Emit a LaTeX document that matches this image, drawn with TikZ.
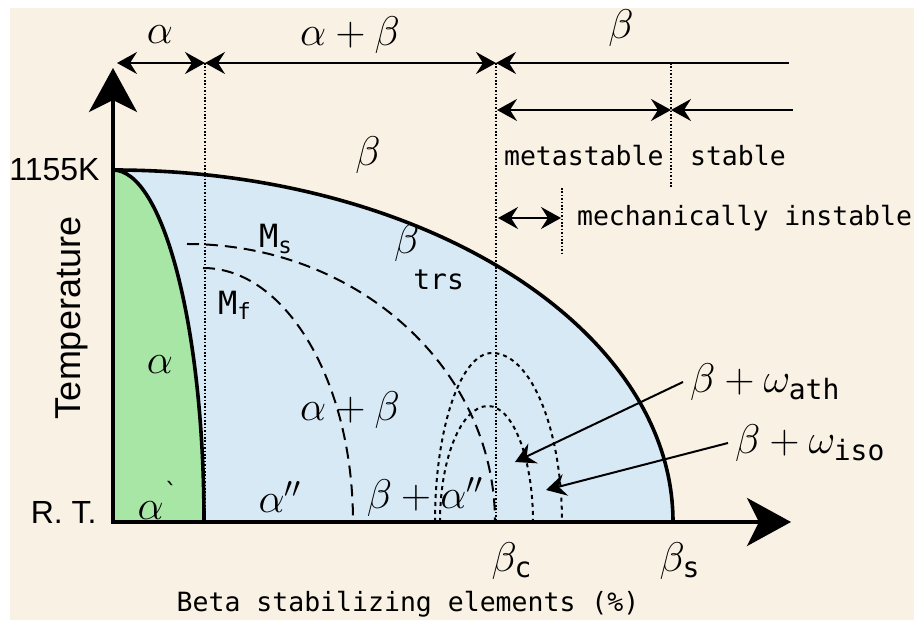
\documentclass[tikz,border=0pt]{standalone}
\usepackage{amsmath}
\usepackage{fontspec}
\setmainfont{Liberation Sans}
\newfontfamily\monofont{DejaVu Sans Mono}
\usetikzlibrary{arrows.meta,calc}
\definecolor{cream}{HTML}{F8F1E4}
\definecolor{betablue}{HTML}{D8E9F6}
\definecolor{alphagreen}{HTML}{A8E6A6}
\tikzset{
  phase/.style={font=\fontsize{20}{20}\selectfont},
  lab/.style={font=\fontsize{16}{17}\selectfont, inner sep=0pt},
  mono/.style={font=\monofont\fontsize{13.25}{14}\selectfont},
  mlab/.style={font=\monofont\fontsize{16}{16}\selectfont},
  bound/.style={line width=1.8pt},
  axis/.style={line width=2pt, {Stealth[length=22pt,width=24pt,inset=6pt]}-{Stealth[length=22pt,width=24pt,inset=6pt]}},
  guide/.style={line width=0.7pt, dash pattern=on 0.8pt off 0.9pt},
  mline/.style={line width=1pt, dash pattern=on 6pt off 3.5pt},
  omega/.style={line width=1pt, dash pattern=on 2pt off 2pt},
  span/.style={line width=1pt},
}

\begin{document}
\begin{tikzpicture}[x=25pt, y=25pt, >={Stealth[length=10pt,width=11pt,inset=3.5pt]}]
        % background
        \useasboundingbox (-2.26,-1.96) rectangle (16.06,10.44);
        \fill[white] (-2.26,-1.96) rectangle (16.06,10.44);
        \fill[cream] (-2.06,-1.96) rectangle (16.02,10.28);
        % axis
        \coordinate (O) at (0,0);
        \coordinate (ytip) at (0,9.08);
        \coordinate (xtip) at (13.56,0);
        \coordinate (T) at (0,7.04);
        \coordinate (bc) at (7.66,0);
        \coordinate (bs) at (11.2,0);
        % regions
        \fill[betablue] (O) -- (T) arc[start angle=90, end angle=0, x radius=11.2, y radius=7.04] -- cycle;
        \fill[alphagreen] (O) -- (T) arc[start angle=90, end angle=0, x radius=1.82, y radius=7.04] -- cycle;
        % martensite start / finish
        \draw[mline] (1.48,5.56) arc[start angle=90, end angle=0, x radius=6.16, y radius=5.56];
        \draw[mline] (1.8,5.08) arc[start angle=90, end angle=0, x radius=3.0, y radius=5.08];
        % omega
        \draw[omega] (6.44,0) arc[start angle=180, end angle=90, x radius=1.14, y radius=3.38]
            arc[start angle=90, end angle=0, x radius=1.4, y radius=3.38];
        \draw[omega] (6.54,0) arc[start angle=180, end angle=90, x radius=0.96, y radius=2.32]
            arc[start angle=90, end angle=0, x radius=0.9, y radius=2.32];
        % guides
        \coordinate (g1) at (1.84,9.18);
        \coordinate (g2) at (7.66,9.18);
        \coordinate (g3) at (11.16,9.18);
        \coordinate (g4) at (8.98,6.68);
        \draw[guide] (g1) -- (1.84,0);
        \draw[guide] (g2) -- (bc);
        \draw[guide] (g3) -- (11.16,6.68);
        \draw[guide] (g4) -- (8.98,5.38);
        % boundaries
        \draw[bound] (T) arc[start angle=90, end angle=0, x radius=11.2, y radius=7.04];
        \draw[bound] (T) arc[start angle=90, end angle=0, x radius=1.82, y radius=7.04];
        \draw[axis] (ytip) -- (O) -- (xtip);
        % ranges
        \coordinate (r0) at (0.08,9.18);
        \coordinate (r1) at (13.52,9.18);
        \coordinate (m0) at (7.68,8.24);
        \coordinate (m1) at (11.16,8.24);
        \coordinate (m2) at (13.6,8.24);
        \coordinate (c0) at (7.7,6.08);
        \coordinate (c1) at (8.96,6.08);
        \draw[span, <->] (r0) -- (g1);
        \draw[span, <->] (g1) -- (g2);
        \draw[span, <-] (g2) -- (r1);
        \draw[span, <->] (m0) -- (m1);
        \draw[span, <-] (m1) -- (m2);
        \draw[span, <->] (c0) -- (c1);
        % labels
        \node[phase] (ta) at (0.94,9.74) {$\alpha$};
        \node[phase] (tab) at (4.74,9.74) {$\alpha+\beta$};
        \node[phase] (tb) at (10.16,9.88) {$\beta$};
        \node[mono, anchor=west] (meta) at (7.68,7.32) {metastable};
        \node[mono, anchor=west] (stab) at (11.4,7.32) {stable};
        \node[mono, anchor=west] (mech) at (9.14,6.08) {mechanically instable};
        \node[phase] (bb) at (5.1,7.34) {$\beta$};
        \node[lab, anchor=east] (tk) at (-0.26,7.04) {1155K};
        \node[lab, anchor=east] (rt) at (-0.32,0.2) {R. T.};
        \node[lab, font=\fontsize{18}{18}\selectfont, rotate=90] (temp) at (-0.82,4.08) {Temperature};
        \node[mlab] (ms) at (3.26,5.66) {M$_{\text{\monofont s}}$};
        \node[mlab] (mf) at (2.44,4.34) {M$_{\text{\monofont f}}$};
        \node[phase, anchor=base west] (trs) at (5.48,5.36) {$\beta$\hspace{-3pt}\raisebox{-18pt}{\monofont\fontsize{14}{14}\selectfont trs}};
        \node[phase] (ga) at (0.94,3.14) {$\alpha$};
        \node[phase] (ab) at (4.74,2.24) {$\alpha+\beta$};
        \node[phase] (am) at (0.9,0.44) {$\alpha$\raisebox{0.9ex}{\monofont\fontsize{12}{12}\selectfont\textasciigrave}};
        \node[phase] (app) at (3.34,0.5) {$\alpha''$};
        \node[phase] (bapp) at (6.24,0.5) {$\beta+\alpha''$};
        \node[phase] (lbc) at (7.98,-0.78) {$\beta_{\text{\monofont c}}$};
        \node[phase] (lbs) at (11.34,-0.78) {$\beta_{\text{\monofont s}}$};
        \node[mono] (xl) at (5.9,-1.64) {Beta stabilizing elements (\%)};
        \node[phase, anchor=west] (ath) at (11.4,2.8) {$\beta+\omega_{\text{\monofont ath}}$};
        \node[phase, anchor=west] (iso) at (12.3,1.58) {$\beta+\omega_{\text{\monofont iso}}$};
        % pointers
        \coordinate (wath) at (8.04,1.2);
        \coordinate (wiso) at (8.66,0.64);
        \draw[span, ->] (ath.west) -- (wath);
        \draw[span, ->] (iso.west) -- (wiso);
\end{tikzpicture}
\end{document}
